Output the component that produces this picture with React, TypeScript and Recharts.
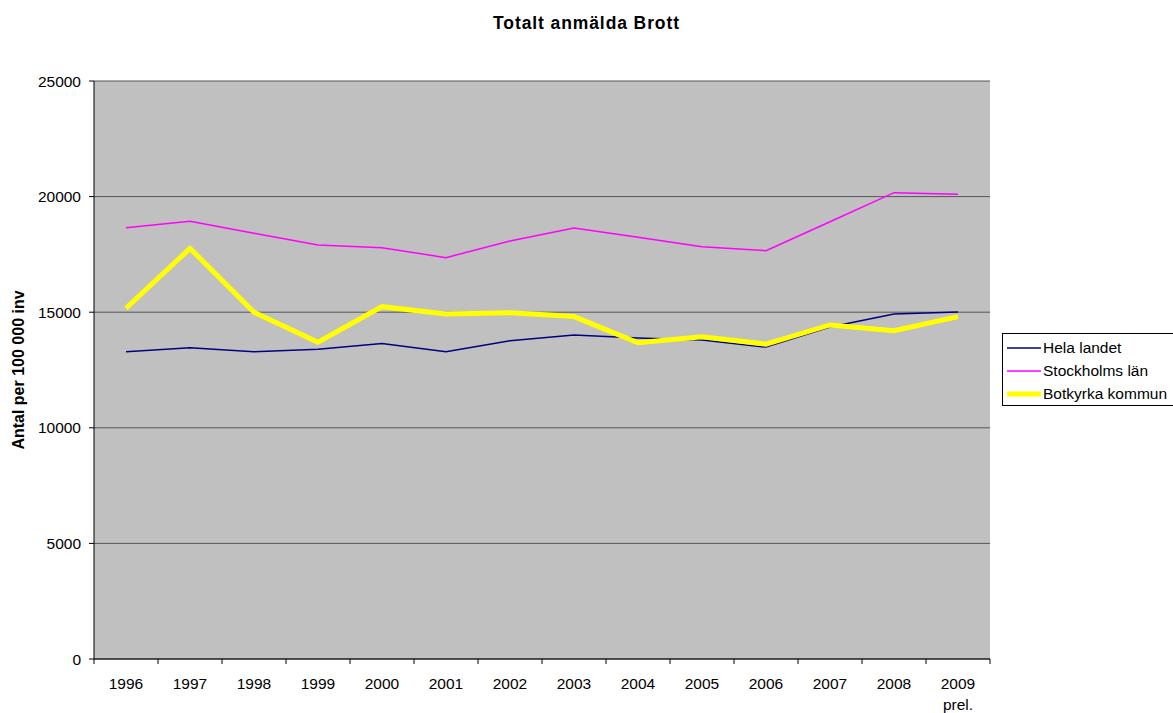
import { LineChart, Line, XAxis, YAxis, CartesianGrid, Legend } from 'recharts';

// Anmälda brott per 100 000 invånare
const years = ['1996', '1997', '1998', '1999', '2000', '2001', '2002', '2003', '2004', '2005', '2006', '2007', '2008', '2009 prel.'];
const helaLandet = [13290, 13460, 13290, 13400, 13650, 13290, 13770, 14010, 13880, 13800, 13490, 14360, 14920, 15010];
const stockholmsLan = [18655, 18930, 18410, 17910, 17790, 17360, 18080, 18640, 18240, 17830, 17660, 18910, 20170, 20100];
const botkyrka = [15170, 17760, 15000, 13700, 15240, 14920, 14980, 14810, 13680, 13940, 13620, 14450, 14200, 14810];
const yTicks = [0, 5000, 10000, 15000, 20000, 25000];

const data = years.map((year, i) => ({
  year,
  hela: helaLandet[i],
  sthlm: stockholmsLan[i],
  botkyrka: botkyrka[i],
}));

const FONT = '"Liberation Sans", Arial, sans-serif';

// year labels, with the tick marks sitting between the categories
const YearTick = (props: any) => {
  const { x, y, payload, index, visibleTicksCount } = props;
  const half = payload.offset ?? 0;
  const lines = String(payload.value).split(' ');
  return (
    <g>
      <line x1={x - half} x2={x - half} y1={y} y2={y + 5} stroke="#000" />
      {index === visibleTicksCount - 1 && (
        <line x1={x + half} x2={x + half} y1={y} y2={y + 5} stroke="#000" />
      )}
      <text x={x} y={y + 30} textAnchor="middle" fontSize={15.5} fontFamily={FONT} fill="#000">
        {lines.map((l, i) => (
          <tspan key={i} x={x} dy={i === 0 ? 0 : 21}>{l}</tspan>
        ))}
      </text>
    </g>
  );
};

const AxisTitle = ({ viewBox }: any) => {
  const cx = viewBox.x + 18;
  const cy = viewBox.y + viewBox.height / 2;
  return (
    <text x={cx} y={cy} transform={`rotate(-90 ${cx} ${cy})`} textAnchor="middle" dominantBaseline="central"
      fontSize={16} fontWeight="bold" fontFamily={FONT} fill="#000">
      Antal per 100 000 inv
    </text>
  );
};

const legendItems = [
  { name: 'Hela landet', color: '#000080', width: 1.5 },
  { name: 'Stockholms län', color: '#FF00FF', width: 1.5 },
  { name: 'Botkyrka kommun', color: '#FFFF00', width: 5 },
];

const LegendBox = () => (
  <div style={{ background: '#fff', border: '1px solid #000', padding: '2px 0 0 4px', width: 200, fontFamily: FONT, fontSize: 15.5 }}>
    {legendItems.map((it) => (
      <div key={it.name} style={{ display: 'flex', alignItems: 'center', height: 23, whiteSpace: 'nowrap' }}>
        <svg width={34} height={10} style={{ marginRight: 2 }}>
          <line x1={0} x2={34} y1={5} y2={5} stroke={it.color} strokeWidth={it.width} />
        </svg>
        <span>{it.name}</span>
      </div>
    ))}
  </div>
);

export default function App() {
  return (
    <div style={{ position: 'absolute', left: 0, top: 0, width: 1173, height: 713, overflow: 'hidden', background: '#fff' }}>
      <div style={{ position: 'absolute', top: 13, left: 0, width: 1173, textAlign: 'center', fontFamily: FONT, fontWeight: 'bold', fontSize: 17.5, letterSpacing: 0.9 }}>
        Totalt anmälda Brott
      </div>
      <LineChart width={1173} height={713} data={data} margin={{ top: 81, right: 183, bottom: 0, left: 0 }}>
        <CartesianGrid vertical={false} stroke="#555" fill="#C0C0C0" fillOpacity={1} />
        <XAxis dataKey="year" scale="band" height={54} tickSize={0} tickMargin={0} tickLine={false}
          axisLine={{ stroke: '#000' }} tick={<YearTick />} interval={0} />
        <YAxis domain={[0, 25000]} ticks={yTicks} width={94} tickSize={5} tickMargin={8}
          axisLine={{ stroke: '#000' }} tickLine={{ stroke: '#000' }}
          tick={{ fill: '#000', fontSize: 15.5, fontFamily: FONT }} label={<AxisTitle />} />
        <YAxis yAxisId="border" orientation="right" domain={[0, 25000]} width={0} tick={false} tickLine={false}
          axisLine={{ stroke: '#808080' }} />
        <Legend layout="vertical" align="center" verticalAlign="middle" content={<LegendBox />}
          wrapperStyle={{ left: 1002, top: 333, width: 'auto' }} />
        <Line type="linear" dataKey="hela" name="Hela landet" stroke="#000080" strokeWidth={1.5} dot={false} isAnimationActive={false} />
        <Line type="linear" dataKey="sthlm" name="Stockholms län" stroke="#FF00FF" strokeWidth={1.5} dot={false} isAnimationActive={false} />
        <Line type="linear" dataKey="botkyrka" name="Botkyrka kommun" stroke="#FFFF00" strokeWidth={5} dot={false} isAnimationActive={false} />
      </LineChart>
    </div>
  );
}
